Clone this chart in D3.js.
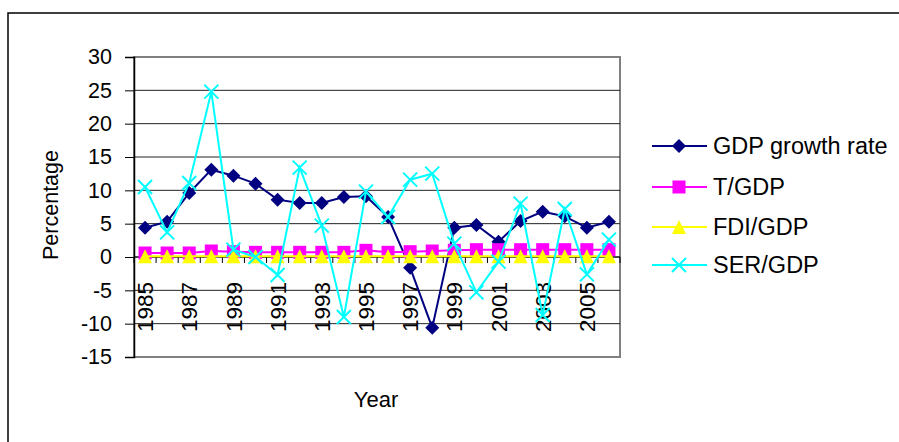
<!DOCTYPE html>
<html>
<head>
<meta charset="utf-8">
<script src="https://cdn.jsdelivr.net/npm/d3@7"></script>
<style>
  body { margin: 0; background: #fff; }
  text { font-family: "Liberation Sans", Arial, sans-serif; fill: #000; }
</style>
</head>
<body>
<div id="chart"></div>
<script>
const years = d3.range(1985, 2007);
const yTicks = [-15, -10, -5, 0, 5, 10, 15, 20, 25, 30];
const gdpGrowth = [4.4, 5.3, 9.6, 13.1, 12.2, 11.0, 8.6, 8.1, 8.1, 9.0, 9.1, 6.0, -1.6, -10.6, 4.4, 4.8, 2.3, 5.4, 6.8, 6.1, 4.4, 5.3];
const tGdp = [0.6, 0.6, 0.6, 0.9, 0.8, 0.7, 0.7, 0.7, 0.7, 0.7, 1.0, 0.7, 0.8, 0.9, 1.0, 1.1, 1.1, 1.1, 1.1, 1.1, 1.1, 1.1];
const fdiGdp = [0.1, 0.1, 0.1, 0.1, 0.1, 0.1, 0.1, 0.1, 0.1, 0.1, 0.1, 0.1, 0.1, 0.1, 0.1, 0.1, 0.1, 0.1, 0.1, 0.1, 0.1, 0.1];
const serGdp = [10.5, 3.7, 11.1, 24.8, 1.1, 0.0, -2.7, 13.4, 4.7, -9.0, 9.8, 6.0, 11.6, 12.5, 2.0, -5.3, -0.7, 8.0, -8.7, 7.2, -2.6, 2.6];

const series = [
  { name: "GDP growth rate", values: gdpGrowth, color: "#000080", marker: "diamond" },
  { name: "T/GDP", values: tGdp, color: "#FF00FF", marker: "square" },
  { name: "FDI/GDP", values: fdiGdp, color: "#FFFF00", marker: "triangle" },
  { name: "SER/GDP", values: serGdp, color: "#00FFFF", marker: "x" }
];

const width = 899, height = 442;
const plot = { left: 134, right: 620, top: 57, bottom: 357 };

const svg = d3.select("#chart").append("svg")
  .attr("width", width).attr("height", height);

// outer chart border
svg.append("rect")
  .attr("x", 8).attr("y", 13)
  .attr("width", 1000).attr("height", 1000)
  .attr("fill", "none").attr("stroke", "#000").attr("stroke-width", 1.5);

const x = d3.scaleBand().domain(years).range([plot.left, plot.right]);
const y = d3.scaleLinear().domain([-15, 30]).range([plot.bottom, plot.top]);

// plot area frame (gray)
svg.append("rect")
  .attr("x", plot.left).attr("y", plot.top)
  .attr("width", plot.right - plot.left).attr("height", plot.bottom - plot.top)
  .attr("fill", "none").attr("stroke", "#808080").attr("stroke-width", 2);

// gridlines
svg.append("g").selectAll("line").data(yTicks.filter(d => d !== -15 && d !== 30)).enter()
  .append("line")
  .attr("x1", plot.left).attr("x2", plot.right)
  .attr("y1", d => y(d)).attr("y2", d => y(d))
  .attr("stroke", "#222").attr("stroke-width", 1);

// y axis
const yAxis = svg.append("g")
  .attr("transform", `translate(${plot.left},0)`)
  .call(d3.axisLeft(y).tickValues(yTicks).tickFormat(d => String(d)).tickSize(9).tickPadding(13));
yAxis.select(".domain").attr("stroke", "#000").attr("stroke-width", 1.5);
yAxis.selectAll(".tick line").attr("stroke", "#000");
yAxis.selectAll("text").style("font-size", "21.5px").style("font-family", "Liberation Sans, Arial, sans-serif");

// x axis at zero
const xg = svg.append("g").attr("transform", `translate(0,${y(0)})`);
xg.append("line")
  .attr("x1", plot.left).attr("x2", plot.right)
  .attr("stroke", "#000").attr("stroke-width", 1);
xg.selectAll(".xt").data(years.map(d => x(d) + x.bandwidth()).concat([plot.left])).enter()
  .append("line")
  .attr("x1", d => d).attr("x2", d => d)
  .attr("y1", 0).attr("y2", 6)
  .attr("stroke", "#000").attr("stroke-width", 1);
xg.selectAll(".xl").data(years.filter((d, i) => i % 2 === 0)).enter()
  .append("text")
  .attr("transform", d => `translate(${x(d) + x.bandwidth() / 2},25) rotate(-90)`)
  .attr("text-anchor", "end")
  .attr("dy", "0.36em")
  .style("font-size", "22.5px")
  .text(d => d);

// lines and markers
const line = d3.line().x((d, i) => x(years[i]) + x.bandwidth() / 2).y(d => y(d));

function drawMarker(g, type, color, cx, cy) {
  if (type === "diamond") {
    g.append("path").attr("d", `M${cx},${cy - 7}L${cx + 7},${cy}L${cx},${cy + 7}L${cx - 7},${cy}Z`).attr("fill", color);
  } else if (type === "square") {
    g.append("rect").attr("x", cx - 6.5).attr("y", cy - 6.5).attr("width", 13).attr("height", 13).attr("fill", color);
  } else if (type === "triangle") {
    g.append("path").attr("d", `M${cx},${cy - 7}L${cx + 7},${cy + 7}L${cx - 7},${cy + 7}Z`).attr("fill", color);
  } else {
    g.append("path").attr("d", `M${cx - 7},${cy - 7}L${cx + 7},${cy + 7}M${cx + 7},${cy - 7}L${cx - 7},${cy + 7}`)
      .attr("stroke", color).attr("stroke-width", 2).attr("fill", "none");
  }
}

series.forEach(s => {
  const g = svg.append("g");
  g.append("path").datum(s.values)
    .attr("d", line)
    .attr("fill", "none").attr("stroke", s.color).attr("stroke-width", 2);
  s.values.forEach((v, i) => drawMarker(g, s.marker, s.color, x(years[i]) + x.bandwidth() / 2, y(v)));
});

// axis titles
svg.append("text")
  .attr("transform", `translate(58,205) rotate(-90)`)
  .attr("text-anchor", "middle")
  .style("font-size", "21.5px")
  .text("Percentage");

svg.append("text")
  .attr("x", 376).attr("y", 407)
  .attr("text-anchor", "middle")
  .style("font-size", "22px")
  .text("Year");

// legend
const legend = svg.append("g");
const rowsY = [146, 187, 227, 265];
series.forEach((s, i) => {
  const ly = rowsY[i];
  legend.append("line")
    .attr("x1", 652).attr("x2", 707).attr("y1", ly).attr("y2", ly)
    .attr("stroke", s.color).attr("stroke-width", 2);
  drawMarker(legend, s.marker, s.color, 679, ly);
  legend.append("text")
    .attr("x", 713).attr("y", ly).attr("dy", "0.36em")
    .style("font-size", "23.5px")
    .text(s.name);
});
</script>
</body>
</html>
